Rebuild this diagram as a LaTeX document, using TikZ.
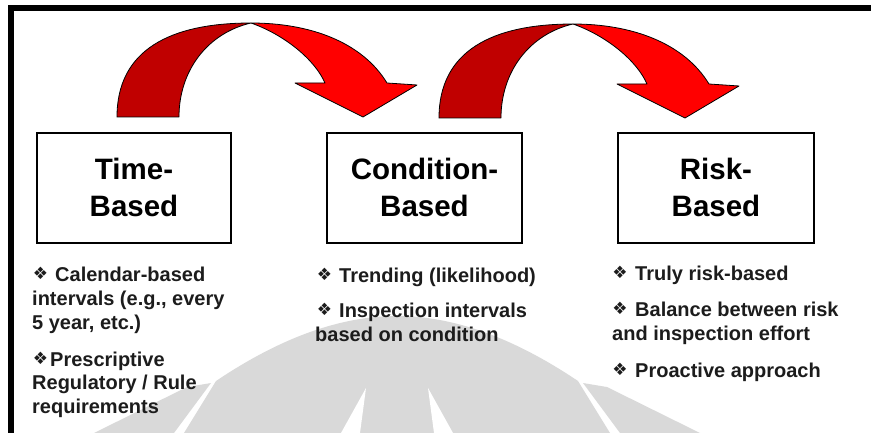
\documentclass[tikz,border=0pt]{standalone}
\usepackage{fontspec}
\setmainfont{Liberation Sans}
\newfontfamily\symfont{DejaVu Sans}
\definecolor{arrowdark}{RGB}{192,0,0}
\definecolor{arrowlight}{RGB}{255,0,0}
\definecolor{markgrey}{RGB}{217,217,217}
\definecolor{bodytext}{RGB}{28,28,28}

% one curved "jump" arrow: a dark back face and a bright front face with the head
\newcommand\drawbend{%
  \filldraw[darkface] (117,117) .. controls (117,50) and (170,23) .. (251,23)
      .. controls (208,33) and (179,70) .. (179,117) -- cycle;
  \filldraw[lightface] (251,23) .. controls (310,23) and (362,42) .. (387,83)
      -- (417,85) -- (363,117) -- (295,83) -- (325,83)
      .. controls (315,60) and (285,35) .. (251,23) -- cycle;
}

\begin{document}
\begin{tikzpicture}[x=1pt,y=-1pt,
  darkface/.style={fill=arrowdark, draw=black, line width=0.8pt, line join=round},
  lightface/.style={fill=arrowlight, draw=black, line width=0.8pt, line join=round},
  stagebox/.style={draw=black, line width=1.3pt, minimum width=#1, minimum height=110pt, inner sep=0pt},
  title/.style={font=\fontsize{29.5}{36}\selectfont\bfseries, anchor=base, inner sep=0pt, text=black},
  item/.style={font=\fontsize{20}{24}\selectfont\bfseries, anchor=base west, inner sep=0pt, text=bodytext},
  dot/.style={font=\symfont\fontsize{17}{17}\selectfont, inner sep=0pt, text=bodytext},
]
\useasboundingbox (0,0) rectangle (871,433);

% faint emblem in the background
\fill[markgrey] (184,433) -- (216,381) .. controls (280,338) and (340,316) .. (397,316)
   .. controls (454,316) and (514,338) .. (578,381) -- (610,433) -- cycle;
\fill[white] (366,388) -- (360,433) -- (341,433) -- cycle;
\fill[white] (428,388) -- (453,433) -- (434,433) -- cycle;
\fill[markgrey] (211,383) -- (187,387) -- (94,433) -- (174,433) -- cycle;
\fill[markgrey] (583,383) -- (607,387) -- (700,433) -- (620,433) -- cycle;

% frame
\draw[line width=5.5pt] (11,433) -- (11,8) -- (871,8);

% arrows between the stages
\begin{scope}\drawbend\end{scope}
\begin{scope}[shift={(322,1)}]\drawbend\end{scope}

% stage boxes
\node[stagebox=194pt] (tbox) at (134,188) {};
\node[stagebox=195pt] (cbox) at (424.5,188) {};
\node[stagebox=196pt] (rbox) at (716,188) {};

\node[title] (tl1) at (tbox.center |- 0,180) {Time-};
\node[title] (tl2) at (tbox.center |- 0,217) {Based};
\node[title] (cl1) at (cbox.center |- 0,180) {Condition-};
\node[title] (cl2) at (cbox.center |- 0,217) {Based};
\node[title] (rl1) at (rbox.center |- 0,180) {Risk-};
\node[title] (rl2) at (rbox.center |- 0,217) {Based};

% time-based notes
\node[dot] (tb1) at (40.5,273) {❖};
\node[item] (tt1) at (55,281) {Calendar-based};
\node[item] (tt2) at (32,305) {intervals (e.g., every};
\node[item] (tt3) at (32,329) {5 year, etc.)};
\node[dot] (tb2) at (40.5,358) {❖};
\node[item] (tt4) at (50,366) {Prescriptive};
\node[item] (tt5) at (32,389) {Regulatory / Rule};
\node[item] (tt6) at (32,413) {requirements};

% condition-based notes
\node[dot] (cb1) at (324.5,274) {❖};
\node[item] (ct1) at (339,282) {Trending (likelihood)};
\node[dot] (cb2) at (324.5,309) {❖};
\node[item] (ct2) at (339,317) {Inspection intervals};
\node[item] (ct3) at (315,341) {based on condition};

% risk-based notes
\node[dot] (rb1) at (620,272) {❖};
\node[item] (rt1) at (635,280) {Truly risk-based};
\node[dot] (rb2) at (620,308) {❖};
\node[item] (rt2) at (635,316) {Balance between risk};
\node[item] (rt3) at (612,340) {and inspection effort};
\node[dot] (rb3) at (620,369) {❖};
\node[item] (rt4) at (635,377) {Proactive approach};
\end{tikzpicture}
\end{document}
